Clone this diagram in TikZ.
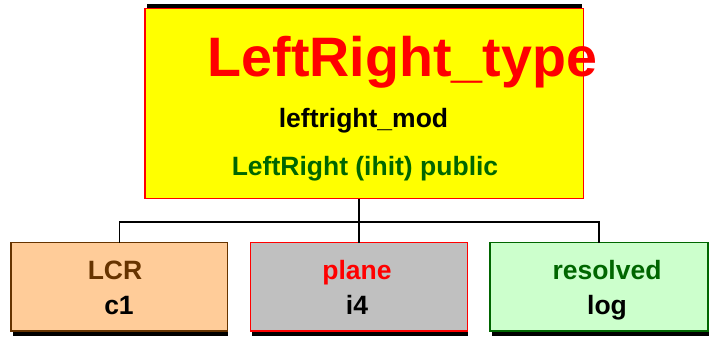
\documentclass[tikz,border=0pt]{standalone}
\usepackage{fontspec}
\setmainfont{Liberation Sans}
\definecolor{myyellow}{HTML}{FFFF00}
\definecolor{myred}{HTML}{FF0000}
\definecolor{mygreen}{HTML}{006600}
\definecolor{lcrfill}{HTML}{FFCC99}
\definecolor{lcrbrown}{HTML}{663300}
\definecolor{planefill}{HTML}{C0C0C0}
\definecolor{resfill}{HTML}{CCFFCC}
\tikzset{
  boxnode/.style={draw, line width=1.6pt, inner sep=0pt, outer sep=0pt, rectangle},
  shadowfill/.style={fill=black},
  label26/.style={anchor=base, inner sep=0pt, font=\fontsize{26.5}{30}\selectfont\bfseries},
  conn/.style={draw=black, line width=1.5pt}
}
\begin{document}
\begin{tikzpicture}[x=1pt,y=-1pt]
\useasboundingbox (0,0) rectangle (712,340);
% shadows
\fill[shadowfill] (147,3.5) rectangle (582,12);
\fill[shadowfill] (12.5,326) rectangle (228,336);
\fill[shadowfill] (251.5,326) rectangle (467.5,336);
\fill[shadowfill] (491.5,326) rectangle (708.5,336);
% boxes
\node[boxnode, draw=myred, fill=myyellow, minimum width=438.5pt, minimum height=190pt] (top) at (364.25,103.5) {};
\node[boxnode, draw=lcrbrown, fill=lcrfill, minimum width=216.5pt, minimum height=88.5pt] (lcr) at (119.25,286.75) {};
\node[boxnode, draw=myred, fill=planefill, minimum width=217pt, minimum height=88.5pt] (plane) at (359,286.75) {};
\node[boxnode, draw=mygreen, fill=resfill, minimum width=218pt, minimum height=88.5pt] (res) at (599,286.75) {};
% connectors
\coordinate (j) at (359,222);
\draw[conn] (plane.north |- top.south) -- (plane.north);
\draw[conn] (lcr.north) -- (lcr.north |- j) -- (res.north |- j) -- (res.north);
% texts
\node[anchor=base, inner sep=0pt, text=myred, font=\fontsize{55.6}{60}\selectfont\bfseries] (title) at (402.5,76) {LeftRight\_type};
\node[label26, text=black] (mod) at (363.5,127) {leftright\_mod};
\node[label26, text=mygreen] (pub) at (365,175) {LeftRight (ihit) public};
\node[label26, text=lcrbrown] (lcrname) at (115,279) {LCR};
\node[label26, text=black] (lcrtype) at (119,314) {c1};
\node[label26, text=myred] (planename) at (357,279) {plane};
\node[label26, text=black] (planetype) at (357,314) {i4};
\node[label26, text=mygreen] (resname) at (607,279) {resolved};
\node[label26, text=black] (restype) at (607,314) {log};
\end{tikzpicture}
\end{document}
